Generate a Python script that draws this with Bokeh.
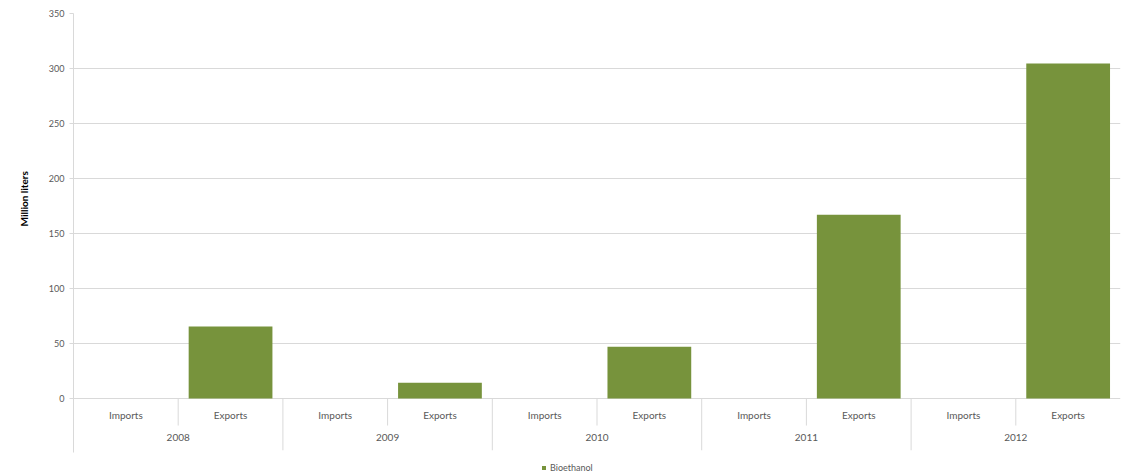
from bokeh.plotting import figure
from bokeh.models import (FactorRange, ColumnDataSource, FixedTicker, Legend, LegendItem,
                          Title)
from bokeh.transform import dodge
from bokeh.embed import file_html
from bokeh.resources import INLINE
from bokeh.core.properties import value

# ---- data ----
years = ["2008", "2009", "2010", "2011", "2012"]
flows = ["Imports", "Exports"]
imports = [0, 0, 0, 0, 0]
exports = [65.5, 14.5, 47, 167, 304.5]
y_ticks = [0, 50, 100, 150, 200, 250, 300, 350]
series_name = "Bioethanol"
y_label = "Million liters"

BAR = "#77933c"
GRID = "#d9d9d9"
TXT = "#595959"
FONT = "Lato"

factors = [(y, f) for y in years for f in flows]
vals = []
for i in range(len(years)):
    vals += [imports[i], exports[i]]

src = ColumnDataSource(dict(x=factors, v=vals))

xr = FactorRange(*factors, range_padding=0, factor_padding=0, group_padding=0)
p = figure(width=1122, height=474, x_range=xr, y_range=(-69, 350),
           output_backend="svg", toolbar_location=None, x_axis_location=None,
           min_border_left=73, min_border_right=2, min_border_top=13, min_border_bottom=0)
p.outline_line_color = None
p.xgrid.visible = False
p.ygrid.grid_line_color = GRID
p.ygrid.ticker = FixedTicker(ticks=y_ticks)

bars = p.vbar(x="x", top="v", width=0.8, source=src, fill_color=BAR, line_color=None)

# category separators
sep_year = ColumnDataSource(dict(x=[(y, "Imports") for y in years[1:]]))
p.segment(x0=dodge("x", -0.5, range=xr), x1=dodge("x", -0.5, range=xr), y0=0, y1=-47,
          source=sep_year, line_color=GRID, line_width=1)
sep_sub = ColumnDataSource(dict(x=[(y, "Exports") for y in years]))
p.segment(x0=dodge("x", -0.5, range=xr), x1=dodge("x", -0.5, range=xr), y0=0, y1=-24.5,
          source=sep_sub, line_color=GRID, line_width=1)

# category labels
lab_src = ColumnDataSource(dict(x=factors, t=[f for (_, f) in factors]))
p.text(x="x", y=-14.5, text="t", source=lab_src, text_font=value(FONT),
       text_font_size="10px", text_color=TXT, text_align="center", text_baseline="middle")
yr_src = ColumnDataSource(dict(x=years, t=years))
p.text(x="x", y=-35.5, text="t", source=yr_src, text_font=value(FONT),
       text_font_size="10px", text_color=TXT, text_align="center", text_baseline="middle")

# y axis
ax = p.yaxis[0]
ax.ticker = FixedTicker(ticks=y_ticks)
ax.bounds = (-49, 350)
ax.axis_line_color = GRID
ax.major_tick_line_color = GRID
ax.major_tick_out = 4
ax.major_tick_in = 0
ax.minor_tick_line_color = None
ax.major_label_text_font = FONT
ax.major_label_text_font_size = "9px"
ax.major_label_text_color = TXT
ax.major_label_standoff = 5

ttl = Title(text=y_label, align="left", offset=248, text_font=FONT,
            text_font_size="10px", text_font_style="bold", text_color="#000000",
            standoff=31)
p.add_layout(ttl, "left")

legend = Legend(items=[LegendItem(label=series_name, renderers=[bars])],
                location=(468, 1), orientation="horizontal",
                label_text_font=FONT, label_text_font_size="9px", label_text_color=TXT,
                glyph_width=5, glyph_height=5, label_height=10, label_standoff=4,
                padding=4, margin=0, border_line_color=None, background_fill_alpha=0)
p.add_layout(legend)

open("out.html", "w").write(file_html(p, INLINE))
